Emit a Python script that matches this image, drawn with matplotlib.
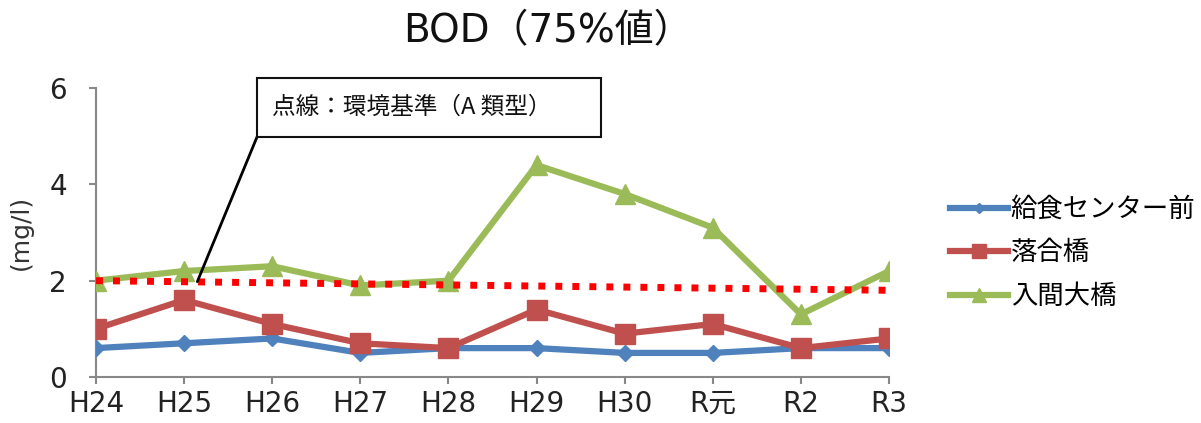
import matplotlib
matplotlib.use("Agg")
import matplotlib.pyplot as plt
from matplotlib.patches import Rectangle

plt.rcParams['font.family'] = ['DejaVu Sans', 'Noto Sans CJK JP']

categories = ["H24", "H25", "H26", "H27", "H28", "H29", "H30", "R元", "R2", "R3"]
kyushoku = [0.6, 0.7, 0.8, 0.5, 0.6, 0.6, 0.5, 0.5, 0.6, 0.6]
ochiai = [1.0, 1.6, 1.1, 0.7, 0.6, 1.4, 0.9, 1.1, 0.6, 0.8]
iruma = [2.0, 2.2, 2.3, 1.9, 2.0, 4.4, 3.8, 3.1, 1.3, 2.2]
series_names = ["給食センター前", "落合橋", "入間大橋"]
standard_x = [0, 9]
standard_y = [2.0, 1.8]
yticks = [0, 2, 4, 6]

W, H = 1201, 423
fig = plt.figure(figsize=(W / 100, H / 100), dpi=100)
ax = fig.add_axes([96 / W, 46 / H, 793 / W, 289 / H])

x = list(range(len(categories)))
ax.plot(standard_x, standard_y, color='#FF0000', lw=5, linestyle=(0, (1, 1.45)),
        dash_capstyle='butt', zorder=4)
ax.plot(x, kyushoku, color='#4F81BD', lw=4.5, marker='D', markersize=8,
        label=series_names[0], zorder=3)
ax.plot(x, ochiai, color='#C0504D', lw=4.5, marker='s', markersize=14,
        label=series_names[1], zorder=3)
ax.plot(x, iruma, color='#9BBB59', lw=4.5, marker='^', markersize=14,
        label=series_names[2], zorder=3)

ax.set_xlim(0, 9)
ax.set_ylim(0, 6)
ax.set_xticks(x)
ax.set_xticklabels(categories)
ax.set_yticks(yticks)
for s in ['top', 'right']:
    ax.spines[s].set_visible(False)
for s in ['left', 'bottom']:
    ax.spines[s].set_color('#888888')
    ax.spines[s].set_linewidth(1.5)
ax.tick_params(axis='both', colors='#888888', width=1.5, length=5,
               labelcolor='#222222', labelsize=20)
ax.tick_params(axis='y', pad=16)
ax.tick_params(axis='x', pad=4)
for lab in ax.get_xticklabels() + ax.get_yticklabels():
    lab.set_clip_on(False)

fig.text(21 / W, 1 - 232 / H, "(mg/l)", rotation=90, ha='center', va='center',
         fontsize=18, color='#333333')
fig.text(548 / W, 1 - 31 / H, "BOD（75%値）", ha='center', va='center',
         fontsize=28, color='#111111')

leg = fig.legend(loc='upper left', bbox_to_anchor=(950 / W, 1 - 197 / H),
                 frameon=False, fontsize=19, handlelength=2.2, handletextpad=0.1,
                 labelspacing=0.66, borderpad=0, borderaxespad=0, markerscale=0.7)

# annotation box
fig.patches.append(Rectangle((257 / W, 1 - 137 / H), 344 / W, 59 / H,
                             transform=fig.transFigure, fc='white', ec='#111111',
                             lw=1.5, zorder=5))
fig.text(272 / W, 1 - 107 / H, "点線：環境基準（A 類型）", ha='left', va='center',
         fontsize=17, color='#111111', family=['Noto Sans CJK JP', 'DejaVu Sans'],
         zorder=6)
ax.annotate("", xy=(1.15, 1.98), xycoords='data',
            xytext=(257 / W, 1 - 137 / H), textcoords='figure fraction',
            arrowprops=dict(arrowstyle='-', color='black', lw=2,
                            shrinkA=0, shrinkB=0),
            zorder=5)

fig.savefig("out.png", dpi=100)
